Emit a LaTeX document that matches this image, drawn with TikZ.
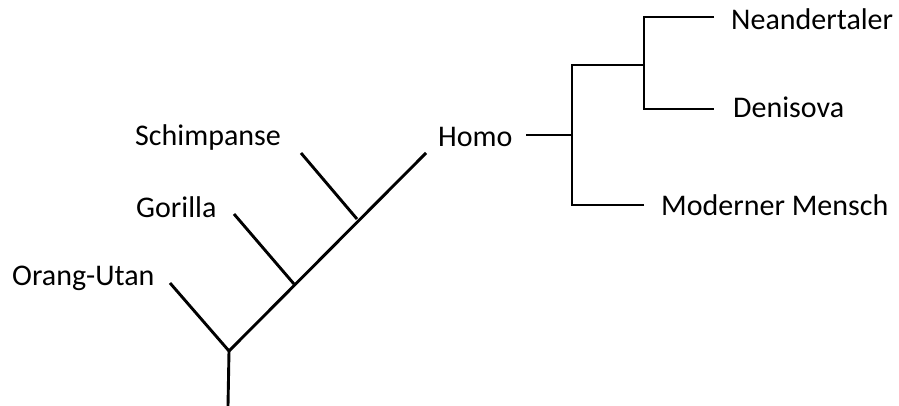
\documentclass[tikz,border=0pt]{standalone}
\usepackage{fontspec}
\setmainfont{Carlito}
\begin{document}
\begin{tikzpicture}[x=1pt,y=-1pt,
  branch/.style={line width=2.9pt,line cap=butt,line join=miter},
  taxon/.style={anchor=base west,inner sep=0pt,font=\fontsize{30}{35}\selectfont}]
\useasboundingbox (0,0) rectangle (899,406);
% labels
\node[taxon] (orang) at (12,285) {Orang-Utan};
\node[taxon] (gor) at (136,217) {Gorilla};
\node[taxon] (schim) at (135,146) {Schimpanse};
\node[taxon] (homo) at (438,147) {Homo};
\node[taxon] (nean) at (731,30) {Neandertaler};
\node[taxon] (deni) at (733,118) {Denisova};
\node[taxon] (mm) at (661,215) {Moderner Mensch};
% tree points
\coordinate (base) at (228,406);
\coordinate (f1) at (229,351);
\coordinate (tOr) at (170,283);
\coordinate (f2) at (294,284);
\coordinate (tGo) at (234,214);
\coordinate (f3) at (357,219);
\coordinate (tSc) at (301,153);
\coordinate (tHo) at (426,153);
\coordinate (hStart) at (526,135);
\coordinate (hFork) at (572,135);
\coordinate (hTop) at (572,65);
\coordinate (hBot) at (572,205);
\coordinate (nFork) at (644,65);
\coordinate (nTop) at (644,17);
\coordinate (nBot) at (644,109);
\coordinate (eNe) at (714,17);
\coordinate (eDe) at (714,109);
\coordinate (eMm) at (644,205);
% branches
\draw[branch] (base) -- (f1);
\draw[branch] (tOr) -- (f1) -- (tHo);
\draw[branch] (tGo) -- (f2);
\draw[branch] (tSc) -- (f3);
\draw[branch] (hStart) -- (hFork);
\draw[branch] (eMm) -- (hBot) -- (hTop) -- (nFork);
\draw[branch] (eNe) -- (nTop) -- (nBot) -- (eDe);
\end{tikzpicture}
\end{document}
